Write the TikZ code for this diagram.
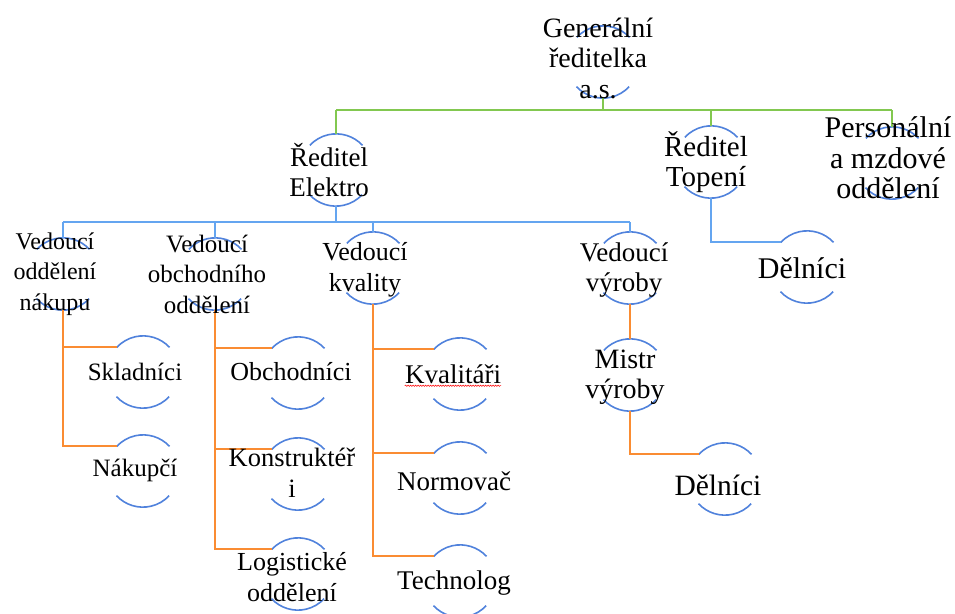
\documentclass[tikz,border=0pt]{standalone}
\usepackage{fontspec}
\setmainfont{Liberation Serif}
\usetikzlibrary{calc,decorations.pathmorphing}
\definecolor{ringblue}{RGB}{80,130,220}
\definecolor{connblue}{RGB}{100,165,240}
\definecolor{conngreen}{RGB}{130,200,80}
\definecolor{connorange}{RGB}{250,140,50}
\begin{document}
\begin{tikzpicture}[x=1pt,y=1pt,
  ring/.style={circle,minimum size=72pt,inner sep=0pt,draw=none},
  t/.style={align=center,inner sep=0pt,font=\fontsize{#1}{30.5}\selectfont},
  arcline/.style={draw=ringblue,line width=1.6pt},
  gline/.style={draw=conngreen,line width=1.8pt},
  bline/.style={draw=connblue,line width=1.8pt},
  oline/.style={draw=connorange,line width=1.8pt}]
\useasboundingbox (0,0) rectangle (955,-613);
\fill[white] (0,0) rectangle (955,-613);

% ring nodes
\node[ring] (gen) at (603,-62) {};
\node[ring] (el) at (336,-170) {};
\node[ring] (top) at (711,-162) {};
\node[ring] (pers) at (892,-163) {};
\node[ring] (d1) at (807,-267) {};
\node[ring] (nak) at (63,-274) {};
\node[ring] (obch) at (215,-274) {};
\node[ring] (kval) at (373,-268) {};
\node[ring] (vyr) at (630,-268) {};
\node[ring] (skl) at (143,-372) {};
\node[ring] (nakc) at (143,-471) {};
\node[ring] (obchc) at (298,-373) {};
\node[ring] (kons) at (298,-474) {};
\node[ring] (log) at (298,-574) {};
\node[ring] (kvc) at (460,-374) {};
\node[ring] (norm) at (460,-478) {};
\node[ring] (tech) at (460,-581) {};
\node[ring] (mis) at (630,-375) {};
\node[ring] (d2) at (725,-479) {};

% arcs
\foreach \n in {gen,el,top,pers,d1,nak,obch,kval,vyr,skl,nakc,obchc,kons,log,kvc,norm,tech,mis,d2}{
  \draw[arcline] (\n.43) arc[start angle=43,end angle=137,radius=36pt];
  \draw[arcline] (\n.223) arc[start angle=223,end angle=317,radius=36pt];
}

% bus coordinates
\coordinate (gbus) at (0,-110);
\coordinate (bbus) at (0,-222);

% green connectors
\draw[gline] (gen.south) -- (gen.south |- gbus);
\draw[gline] (el.north |- gbus) -- (pers.north |- gbus);
\draw[gline] (el.north |- gbus) -- (el.north);
\draw[gline] (top.north |- gbus) -- (top.north);
\draw[gline] (pers.north |- gbus) -- (pers.north);

% blue connectors
\draw[bline] (el.south) -- (el.south |- bbus);
\draw[bline] (nak.north |- bbus) -- (vyr.north |- bbus);
\draw[bline] (nak.north |- bbus) -- (nak.north);
\draw[bline] (obch.north |- bbus) -- (obch.north);
\draw[bline] (kval.north |- bbus) -- (kval.north);
\draw[bline] (vyr.north |- bbus) -- (vyr.north);
\draw[bline] (top.south) |- (d1.137);

% orange connectors
\draw[oline] (nak.south) |- (nakc.137);
\draw[oline] (nak.south |- skl.137) -- (skl.137);
\draw[oline] (obch.south) |- (log.137);
\draw[oline] (obch.south |- obchc.137) -- (obchc.137);
\draw[oline] (obch.south |- kons.137) -- (kons.137);
\draw[oline] (kval.south) |- (tech.137);
\draw[oline] (kval.south |- kvc.137) -- (kvc.137);
\draw[oline] (kval.south |- norm.137) -- (norm.137);
\draw[oline] (vyr.south) -- (mis.north);
\draw[oline] (mis.south) |- (d2.137);

% texts
\node[t=28] (genT) at (598,-58) {Generální\\ředitelka\\a.s.};
\node[t=27] (elT) at (329,-170) {Ředitel\\Elektro};
\node[t=29] (topT) at (706,-162) {Ředitel\\Topení};
\node[t=30] (persT) at (888,-158) {Personální\\a mzdové\\oddělení};
\node[t=30] (d1T) at (802,-268) {Dělníci};
\node[t=24] (nakT) at (55,-274) {Vedoucí\\oddělení\\nákupu};
\node[t=25] (obchT) at (207,-274) {Vedoucí\\obchodního\\oddělení};
\node[t=26] (kvalT) at (365,-270) {Vedoucí\\kvality};
\node[t=27] (vyrT) at (624,-270) {Vedoucí\\výroby};
\node[t=25] (sklT) at (135,-372) {Skladníci};
\node[t=25] (nakcT) at (135,-470) {Nákupčí};
\node[t=26] (obchcT) at (291,-372) {Obchodníci};
\node[t=26.5] (konsT) at (292,-473) {Konstruktéř\\i};
\node[t=26] (logT) at (292,-577) {Logistické\\oddělení};
\node[t=27] (kvcT) at (453,-374) {Kvalitáři};
\node[t=27] (normT) at (454,-481) {Normovač};
\node[t=27] (techT) at (454,-583) {Technolog};
\node[t=28] (misT) at (625,-377) {Mistr\\výroby};
\node[t=29.5] (d2T) at (718,-485) {Dělníci};

% spell-check underline
\draw[red,line width=0.5pt,decorate,decoration={snake,amplitude=0.7pt,segment length=2.5pt}]
  ($(kvcT.south west)+(0,-2)$) -- ($(kvcT.south east)+(0,-2)$);
\end{tikzpicture}
\end{document}
